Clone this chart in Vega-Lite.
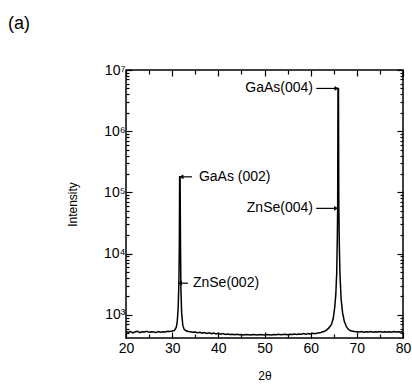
{
  "$schema": "https://vega.github.io/schema/vega-lite/v6.json",
  "width": 277,
  "height": 268,
  "autosize": {"type": "none"},
  "padding": {"left": 126, "top": 70, "right": 9, "bottom": 52},
  "background": "white",
  "config": {
    "font": "Liberation Sans",
    "view": {"stroke": "black", "strokeWidth": 1.5},
    "axis": {"grid": false, "domain": false, "tickColor": "black", "labelColor": "black", "titleColor": "black", "labelFont": "Liberation Sans", "titleFont": "Liberation Sans", "titleFontWeight": "normal"}
  },
  "title": {"text": "(a)", "anchor": "start", "frame": "group", "orient": "top", "dx": -118, "dy": -26, "fontSize": 18, "fontWeight": "normal", "font": "Liberation Sans", "color": "black"},
  "datasets": {
    "xrd": [
      {"t": 20, "i": 540}, {"t": 20.5, "i": 520}, {"t": 21, "i": 535}, {"t": 21.5, "i": 510}, {"t": 22, "i": 530},
      {"t": 22.5, "i": 540}, {"t": 23, "i": 515}, {"t": 23.5, "i": 530}, {"t": 24, "i": 525}, {"t": 24.5, "i": 540},
      {"t": 25, "i": 520}, {"t": 25.5, "i": 530}, {"t": 26, "i": 525}, {"t": 26.5, "i": 515}, {"t": 27, "i": 535},
      {"t": 27.5, "i": 520}, {"t": 28, "i": 530}, {"t": 28.5, "i": 525}, {"t": 29, "i": 540}, {"t": 29.5, "i": 535},
      {"t": 30, "i": 545}, {"t": 30.5, "i": 560}, {"t": 30.9, "i": 630}, {"t": 31.1, "i": 780}, {"t": 31.3, "i": 1300},
      {"t": 31.45, "i": 3200}, {"t": 31.55, "i": 12000}, {"t": 31.62, "i": 180000}, {"t": 31.72, "i": 180000}, {"t": 31.8, "i": 15000},
      {"t": 31.9, "i": 2500}, {"t": 32.05, "i": 1100}, {"t": 32.3, "i": 680}, {"t": 32.6, "i": 580}, {"t": 33, "i": 550},
      {"t": 33.5, "i": 535}, {"t": 34, "i": 530}, {"t": 34.5, "i": 520}, {"t": 35, "i": 525}, {"t": 35.5, "i": 510},
      {"t": 36, "i": 520}, {"t": 36.5, "i": 505}, {"t": 37, "i": 515}, {"t": 37.5, "i": 500}, {"t": 38, "i": 510},
      {"t": 38.5, "i": 495}, {"t": 39, "i": 505}, {"t": 39.5, "i": 490}, {"t": 40, "i": 500}, {"t": 40.5, "i": 485},
      {"t": 41, "i": 495}, {"t": 41.5, "i": 480}, {"t": 42, "i": 490}, {"t": 42.5, "i": 480}, {"t": 43, "i": 485},
      {"t": 43.5, "i": 475}, {"t": 44, "i": 485}, {"t": 44.5, "i": 475}, {"t": 45, "i": 480}, {"t": 45.5, "i": 470},
      {"t": 46, "i": 480}, {"t": 46.5, "i": 475}, {"t": 47, "i": 470}, {"t": 47.5, "i": 480}, {"t": 48, "i": 475},
      {"t": 48.5, "i": 470}, {"t": 49, "i": 480}, {"t": 49.5, "i": 475}, {"t": 50, "i": 470}, {"t": 50.5, "i": 480},
      {"t": 51, "i": 475}, {"t": 51.5, "i": 470}, {"t": 52, "i": 480}, {"t": 52.5, "i": 475}, {"t": 53, "i": 485},
      {"t": 53.5, "i": 475}, {"t": 54, "i": 480}, {"t": 54.5, "i": 485}, {"t": 55, "i": 475}, {"t": 55.5, "i": 485},
      {"t": 56, "i": 480}, {"t": 56.5, "i": 490}, {"t": 57, "i": 480}, {"t": 57.5, "i": 490}, {"t": 58, "i": 485},
      {"t": 58.5, "i": 495}, {"t": 59, "i": 485}, {"t": 59.5, "i": 495}, {"t": 60, "i": 490}, {"t": 60.5, "i": 500},
      {"t": 61, "i": 495}, {"t": 61.5, "i": 505}, {"t": 62, "i": 510}, {"t": 62.5, "i": 525}, {"t": 63, "i": 540},
      {"t": 63.5, "i": 570}, {"t": 64, "i": 620}, {"t": 64.5, "i": 700}, {"t": 64.9, "i": 880}, {"t": 65.2, "i": 1300},
      {"t": 65.45, "i": 2200}, {"t": 65.65, "i": 5000}, {"t": 65.78, "i": 20000}, {"t": 65.85, "i": 55000}, {"t": 65.92, "i": 5000000},
      {"t": 66.02, "i": 5000000}, {"t": 66.1, "i": 60000}, {"t": 66.2, "i": 15000}, {"t": 66.35, "i": 4500}, {"t": 66.6, "i": 1800},
      {"t": 66.9, "i": 1100}, {"t": 67.3, "i": 780}, {"t": 67.8, "i": 630}, {"t": 68.3, "i": 570}, {"t": 68.8, "i": 545},
      {"t": 69.5, "i": 535}, {"t": 70, "i": 530}, {"t": 70.5, "i": 525}, {"t": 71, "i": 535}, {"t": 71.5, "i": 520},
      {"t": 72, "i": 530}, {"t": 72.5, "i": 525}, {"t": 73, "i": 535}, {"t": 73.5, "i": 520}, {"t": 74, "i": 530},
      {"t": 74.5, "i": 525}, {"t": 75, "i": 535}, {"t": 75.5, "i": 520}, {"t": 76, "i": 530}, {"t": 76.5, "i": 525},
      {"t": 77, "i": 530}, {"t": 77.5, "i": 520}, {"t": 78, "i": 535}, {"t": 78.5, "i": 525}, {"t": 79, "i": 530},
      {"t": 79.5, "i": 525}, {"t": 80, "i": 530}
    ],
    "notes": [
      {"label": "GaAs (002)", "tx": 35.8, "ax1": 32.0, "ax2": 34.3, "head": 32.0, "shape": "triangle-left", "y": 180000, "align": "left"},
      {"label": "ZnSe(002)", "tx": 34.5, "ax1": 31.7, "ax2": 33.4, "head": 31.7, "shape": "triangle-left", "y": 3300, "align": "left"},
      {"label": "GaAs(004)", "tx": 60.5, "ax1": 61.2, "ax2": 65.9, "head": 65.6, "shape": "triangle-right", "y": 5000000, "align": "right"},
      {"label": "ZnSe(004)", "tx": 60.5, "ax1": 61.2, "ax2": 65.8, "head": 65.5, "shape": "triangle-right", "y": 55000, "align": "right"}
    ]
  },
  "layer": [
    {
      "data": {"name": "xrd"},
      "mark": {"type": "line", "color": "black", "strokeWidth": 1.5, "clip": true},
      "encoding": {
        "x": {"field": "t", "type": "quantitative", "title": "2θ",
          "scale": {"domain": [20, 80], "nice": false, "zero": false},
          "axis": {"orient": "bottom", "values": [20, 25, 30, 35, 40, 45, 50, 55, 60, 65, 70, 75, 80],
            "labelExpr": "datum.value % 10 == 0 ? datum.label : ''",
            "labelFontSize": 14, "labelPadding": 9, "labelFlush": false,
            "tickSize": {"condition": {"test": "datum.value % 10 == 0", "value": -6}, "value": -4},
            "tickWidth": 1.2, "titleFontSize": 12, "titlePadding": 15}},
        "y": {"field": "i", "type": "quantitative", "title": "Intensity",
          "scale": {"type": "log", "domain": [420, 10000000], "nice": false},
          "axis": {"orient": "left",
            "values": [500, 600, 700, 800, 900, 1000, 2000, 3000, 4000, 5000, 6000, 7000, 8000, 9000, 10000, 20000, 30000, 40000, 50000, 60000, 70000, 80000, 90000, 100000, 200000, 300000, 400000, 500000, 600000, 700000, 800000, 900000, 1000000, 2000000, 3000000, 4000000, 5000000, 6000000, 7000000, 8000000, 9000000, 10000000],
            "labelExpr": "datum.value == 1000 ? '10³' : datum.value == 10000 ? '10⁴' : datum.value == 100000 ? '10⁵' : datum.value == 1000000 ? '10⁶' : datum.value == 10000000 ? '10⁷' : ''",
            "labelFontSize": 14, "labelPadding": 7,
            "tickSize": {"condition": {"test": "datum.value == 1000 || datum.value == 10000 || datum.value == 100000 || datum.value == 1000000 || datum.value == 10000000", "value": -6}, "value": -3},
            "tickWidth": 1.2, "titleFontSize": 12, "titlePadding": 24}}
      }
    },
    {
      "data": {"name": "notes"},
      "mark": {"type": "rule", "color": "black", "strokeWidth": 1.2},
      "encoding": {
        "x": {"field": "ax1", "type": "quantitative",
          "axis": {"orient": "top", "values": [20, 25, 30, 35, 40, 45, 50, 55, 60, 65, 70, 75, 80], "labels": false, "title": null,
            "tickSize": {"condition": {"test": "datum.value % 10 == 0", "value": -6}, "value": -4}, "tickWidth": 1.2}},
        "x2": {"field": "ax2"},
        "y": {"field": "y", "type": "quantitative",
          "axis": {"orient": "right", "labels": false, "title": null,
            "values": [500, 600, 700, 800, 900, 1000, 2000, 3000, 4000, 5000, 6000, 7000, 8000, 9000, 10000, 20000, 30000, 40000, 50000, 60000, 70000, 80000, 90000, 100000, 200000, 300000, 400000, 500000, 600000, 700000, 800000, 900000, 1000000, 2000000, 3000000, 4000000, 5000000, 6000000, 7000000, 8000000, 9000000, 10000000],
            "tickSize": {"condition": {"test": "datum.value == 1000 || datum.value == 10000 || datum.value == 100000 || datum.value == 1000000 || datum.value == 10000000", "value": -6}, "value": -3},
            "tickWidth": 1.2}}
      }
    },
    {
      "data": {"name": "notes"},
      "mark": {"type": "point", "filled": true, "color": "black", "size": 22, "opacity": 1},
      "encoding": {
        "x": {"field": "head", "type": "quantitative", "axis": null},
        "y": {"field": "y", "type": "quantitative", "axis": null},
        "shape": {"field": "shape", "type": "nominal", "scale": null, "legend": null}
      }
    },
    {
      "data": {"name": "notes"},
      "transform": [{"filter": "datum.align == 'left'"}],
      "mark": {"type": "text", "align": "left", "baseline": "middle", "fontSize": 14, "color": "black"},
      "encoding": {
        "x": {"field": "tx", "type": "quantitative", "axis": null},
        "y": {"field": "y", "type": "quantitative", "axis": null},
        "text": {"field": "label"}
      }
    },
    {
      "data": {"name": "notes"},
      "transform": [{"filter": "datum.align == 'right'"}],
      "mark": {"type": "text", "align": "right", "baseline": "middle", "fontSize": 14, "color": "black"},
      "encoding": {
        "x": {"field": "tx", "type": "quantitative", "axis": null},
        "y": {"field": "y", "type": "quantitative", "axis": null},
        "text": {"field": "label"}
      }
    }
  ],
  "resolve": {"axis": {"x": "independent", "y": "independent"}}
}
